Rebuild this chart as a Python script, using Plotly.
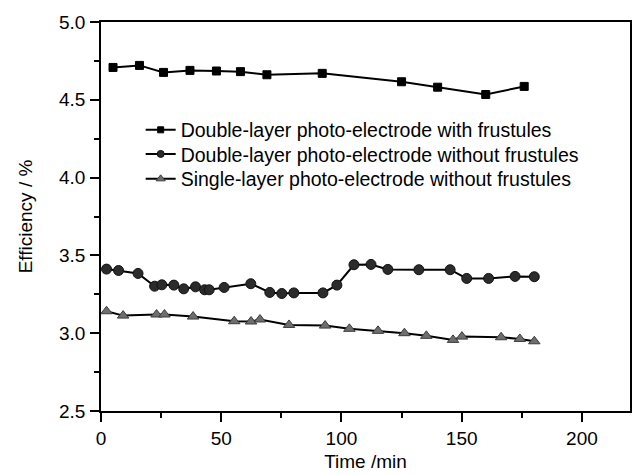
import plotly.graph_objects as go

# Data
t_sq = [5, 16, 26, 37, 48, 58, 69, 92, 125, 140, 160, 176]
e_sq = [4.708, 4.721, 4.676, 4.689, 4.685, 4.681, 4.661, 4.670, 4.616, 4.581, 4.534, 4.586]

t_ci = [2.3, 7.3, 15.4, 22.3, 25.3, 30.3, 34.4, 39.3, 43.1, 45.0, 51.2, 62.3, 70.2,
        75.2, 80.2, 92.3, 98.1, 105.2, 112.3, 119.3, 132.2, 145.2, 152.1, 161.2, 172.2, 180.2]
e_ci = [3.412, 3.403, 3.384, 3.302, 3.311, 3.309, 3.285, 3.298, 3.279, 3.279, 3.294, 3.318, 3.262,
        3.255, 3.259, 3.259, 3.309, 3.440, 3.442, 3.410, 3.408, 3.408, 3.352, 3.352, 3.365, 3.363]

t_tr = [2.3, 9.2, 23.1, 26.4, 38.3, 55.4, 62.4, 66.1, 78.2, 93.2, 103.3, 115.2, 126.2,
        135.3, 146.4, 150.1, 166.4, 174.2, 180.2]
e_tr = [3.141, 3.113, 3.120, 3.120, 3.107, 3.077, 3.075, 3.088, 3.053, 3.049, 3.028, 3.015, 3.000,
        2.983, 2.957, 2.978, 2.974, 2.963, 2.948]

names = ["Double-layer photo-electrode with frustules",
         "Double-layer photo-electrode without frustules",
         "Single-layer photo-electrode without frustules"]

FONT = "Liberation Sans, Arial, sans-serif"

styles = [
    dict(symbol="square", color="black", edge="black"),
    dict(symbol="circle", color="#2b2b2b", edge="#111111"),
    dict(symbol="triangle-up", color="#6e6e6e", edge="#3c3c3c"),
]
plot_sizes = [8, 10, 10]
legend_sizes = [6, 7, 8]
legend_ids = ["legend", "legend2", "legend3"]
series = [(t_sq, e_sq), (t_ci, e_ci), (t_tr, e_tr)]

fig = go.Figure()
for (xs, ys), st, ps in zip(series, styles, plot_sizes):
    fig.add_trace(go.Scatter(x=xs, y=ys, mode="lines+markers", showlegend=False,
                             line=dict(color="black", width=2),
                             marker=dict(symbol=st["symbol"], size=ps, color=st["color"],
                                         line=dict(color=st["edge"], width=1))))
# legend entries (smaller symbols, as in the reference)
for name, st, ls, lid in zip(names, styles, legend_sizes, legend_ids):
    fig.add_trace(go.Scatter(x=[None], y=[None], mode="lines+markers", name=name,
                             legend=lid, showlegend=True,
                             line=dict(color="black", width=2),
                             marker=dict(symbol=st["symbol"], size=ls, color=st["color"],
                                         line=dict(color=st["edge"], width=1))))

axis_common = dict(showline=True, linecolor="black", linewidth=1.5, mirror=True,
                   ticks="outside", ticklen=9, tickwidth=1.5, tickcolor="black",
                   showgrid=False, zeroline=False,
                   tickfont=dict(family=FONT, size=19, color="black"))

fig.update_xaxes(range=[0, 220], tickvals=[0, 50, 100, 150, 200],
                 minor=dict(tickvals=[25, 75, 125, 175], ticks="outside", ticklen=5,
                            tickwidth=1.5, tickcolor="black"),
                 title=dict(text="Time /min", font=dict(family=FONT, size=19, color="black"),
                            standoff=7),
                 **axis_common)
fig.update_yaxes(range=[2.5, 5.0], tickvals=[2.5, 3.0, 3.5, 4.0, 4.5, 5.0],
                 ticktext=["2.5", "3.0", "3.5", "4.0", "4.5", "5.0"],
                 ticklabelstandoff=1,
                 minor=dict(tickvals=[2.75, 3.25, 3.75, 4.25, 4.75], ticks="outside", ticklen=5,
                            tickwidth=1.5, tickcolor="black"),
                 title=dict(text="Efficiency / %", font=dict(family=FONT, size=19, color="black"),
                            standoff=21),
                 **axis_common)

leg_common = dict(x=0.075, xanchor="left", yanchor="middle", bgcolor="rgba(0,0,0,0)",
                  borderwidth=0, font=dict(family=FONT, size=19.5, color="black"))
fig.update_layout(width=633, height=475,
                  margin=dict(l=101, r=1, t=22, b=64),
                  paper_bgcolor="white", plot_bgcolor="white",
                  font=dict(family=FONT, color="black"),
                  legend=dict(y=0.722, **leg_common),
                  legend2=dict(y=0.660, **leg_common),
                  legend3=dict(y=0.596, **leg_common))

fig.write_html("out.html",
               config={"displayModeBar": False, "staticPlot": False},
               post_script="document.body.style.margin='0';document.body.style.overflow='hidden';")
